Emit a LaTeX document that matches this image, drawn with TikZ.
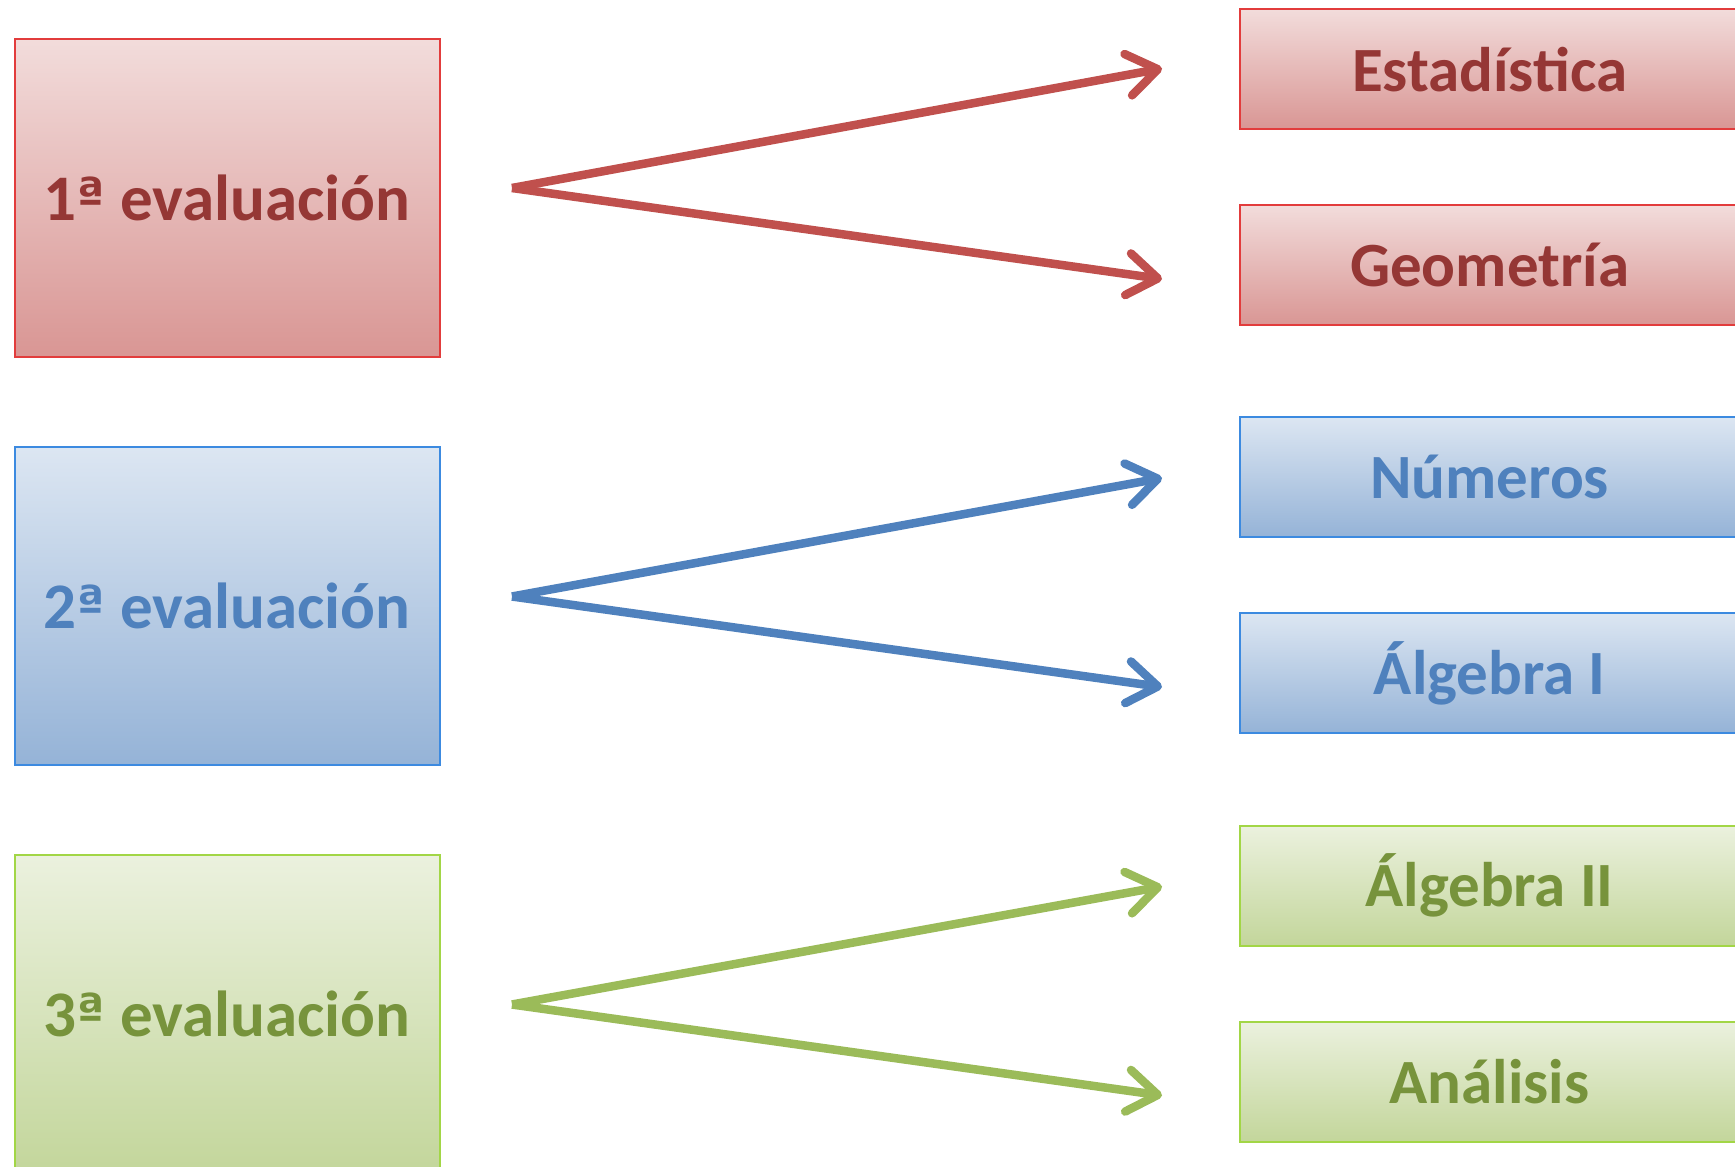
\documentclass[tikz,border=0pt]{standalone}
\usepackage{fontspec}
\setmainfont{Carlito}
\newfontfamily\ordfont[Scale=0.78]{DejaVu Sans}
\usetikzlibrary{arrows.meta}
\definecolor{rTop}{HTML}{F2DCDB}\definecolor{rBot}{HTML}{D99694}
\definecolor{rLine}{HTML}{E23C3C}\definecolor{rText}{HTML}{953735}\definecolor{rArrow}{HTML}{C0504D}
\definecolor{bTop}{HTML}{DCE6F2}\definecolor{bBot}{HTML}{95B3D7}
\definecolor{bLine}{HTML}{3C8AE0}\definecolor{bText}{HTML}{4F81BD}\definecolor{bArrow}{HTML}{4F81BD}
\definecolor{gTop}{HTML}{EBF1DE}\definecolor{gBot}{HTML}{C3D69B}
\definecolor{gLine}{HTML}{A2D646}\definecolor{gText}{HTML}{77933C}\definecolor{gArrow}{HTML}{9BBB59}
\newcommand{\ordA}{{\ordfont\bfseries\raisebox{0.12em}{ª}}}
\tikzset{
  bigbox/.style={anchor=north west, minimum width=425pt, minimum height=318pt, inner sep=0pt, line width=2.2pt,
     font=\bfseries\fontsize{65}{78}\selectfont},
  subbox/.style={anchor=north west, minimum width=500pt, minimum height=120pt, inner sep=0pt, line width=2.2pt,
     font=\bfseries\fontsize{63}{76}\selectfont},
  redbox/.style={draw=rLine, top color=rTop, bottom color=rBot, text=rText},
  bluebox/.style={draw=bLine, top color=bTop, bottom color=bBot, text=bText},
  greenbox/.style={draw=gLine, top color=gTop, bottom color=gBot, text=gText},
  conn/.style={line width=8.5pt, line cap=butt, -{Straight Barb[length=30pt,width=42pt,line cap=round,line join=round]}},
}
\begin{document}
\begin{tikzpicture}[x=1pt,y=-1pt]
\useasboundingbox (0,0) rectangle (1735,1167);
\fill[white] (0,0) rectangle (1735,1167);
\clip (0,0) rectangle (1735,1167);
% left boxes
\node[bigbox,redbox]   (e1) at (13.5,37.5)  {1\ordA\ evaluación};
\node[bigbox,bluebox]  (e2) at (13.5,446)   {2\ordA\ evaluación};
\node[bigbox,greenbox] (e3) at (13.5,854)   {3\ordA\ evaluación};
% right boxes
\node[subbox,redbox]   (est) at (1238.5,8)   {Estadística};
\node[subbox,redbox]   (geo) at (1238.5,204) {Geometría};
\node[subbox,bluebox]  (num) at (1238.5,416) {Números};
\node[subbox,bluebox]  (alg1) at (1238.5,612) {Álgebra I};
\node[subbox,greenbox] (alg2) at (1238.5,824.5) {Álgebra II};
\node[subbox,greenbox] (ana) at (1238.5,1020.5) {Análisis};
% connector points
\coordinate (s1) at (512,188);
\coordinate (s2) at (512,596.5);
\coordinate (s3) at (512,1004.5);
\coordinate (t1a) at (1162,68.5);
\coordinate (t1b) at (1162,279);
\coordinate (t2a) at (1162,478);
\coordinate (t2b) at (1162,687);
\coordinate (t3a) at (1162,886.5);
\coordinate (t3b) at (1162,1095.5);
\draw[conn,rArrow] (s1) -- (t1a);
\draw[conn,rArrow] (s1) -- (t1b);
\draw[conn,bArrow] (s2) -- (t2a);
\draw[conn,bArrow] (s2) -- (t2b);
\draw[conn,gArrow] (s3) -- (t3a);
\draw[conn,gArrow] (s3) -- (t3b);
\end{tikzpicture}
\end{document}
